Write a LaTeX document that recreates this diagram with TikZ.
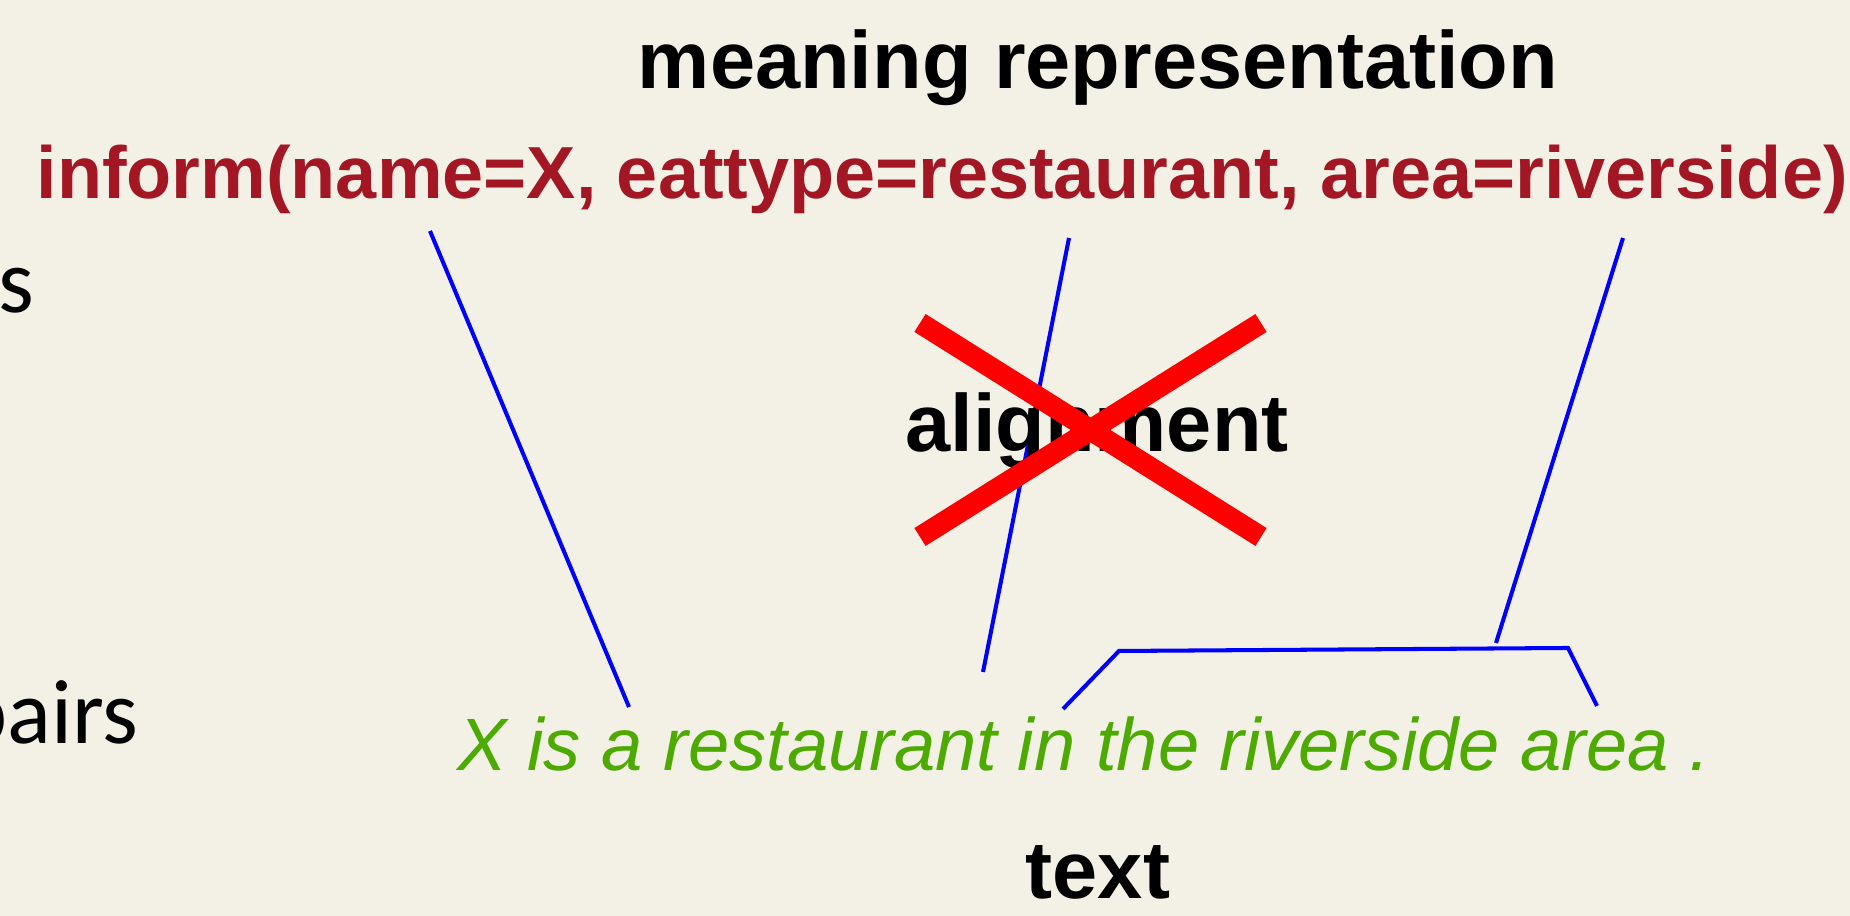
\documentclass[tikz,border=0pt]{standalone}
\usepackage{fontspec}
\setmainfont{Liberation Sans}
\newfontfamily\sidefont{Carlito}
\usepackage{tikz}
\usetikzlibrary{calc}
\definecolor{mr-red}{RGB}{163,22,35}
\definecolor{txt-green}{RGB}{76,170,0}
\definecolor{bg-beige}{RGB}{243,241,230}

\tikzset{
  title/.style={inner sep=0, font=\fontsize{23.1pt}{27pt}\selectfont\bfseries},
  side/.style={inner sep=0, anchor=base east, font=\sidefont\fontsize{26pt}{30pt}\selectfont},
  align line/.style={blue, line width=1.15pt},
}

\begin{document}
\begin{tikzpicture}
    % Background
    \useasboundingbox (0,0) rectangle (18.5,9.16);
    \fill[bg-beige] (0,0) rectangle (18.5,9.16);
    % Cut-off text at the left edge
    \node[side] (sidetop) at (0.35,6.03) {s};
    \node[side] (sidebot) at (1.39,1.72) {pairs};
    % Meaning representation
    \node[title, anchor=base] (mrtitle) at (10.98,8.27) {meaning representation};
    \node[inner sep=0, anchor=base west, mr-red, font=\fontsize{21pt}{25pt}\selectfont\bfseries] (mr) at (0.36,7.17) {inform(name=X, eattype=restaurant, area=riverside)};
    % Text
    \node[inner sep=0, anchor=base, txt-green, font=\fontsize{21.1pt}{25pt}\selectfont\itshape] (sent) at (10.84,1.45) {X is a restaurant in the riverside area .};
    \node[title, anchor=base] (texttitle) at (10.98,0.17) {text};
    % Alignment lines
    \coordinate (mrname) at (4.30,6.85);
    \coordinate (mrtype) at (10.69,6.78);
    \coordinate (mrarea) at (16.23,6.78);
    \coordinate (wx) at (6.29,2.09);
    \coordinate (wrest) at (9.83,2.44);
    \coordinate (wspan) at (14.96,2.73);
    \coordinate (spanl) at (10.63,2.07);
    \coordinate (spanr) at (15.97,2.10);
    \draw[align line] (mrname) -- (wx);
    \draw[align line] (mrtype) -- (wrest);
    \draw[align line] (mrarea) -- (wspan);
    \draw[align line] (spanl) -- (11.19,2.65) -- (15.68,2.68) -- (spanr);
    % Alignment (crossed out)
    \node[title, anchor=base] (align) at (10.97,4.64) {alignment};
    \draw[red, line width=6pt] (9.20,5.93) -- (12.61,3.79);
    \draw[red, line width=6pt] (9.20,3.79) -- (12.61,5.93);
\end{tikzpicture}
\end{document}
